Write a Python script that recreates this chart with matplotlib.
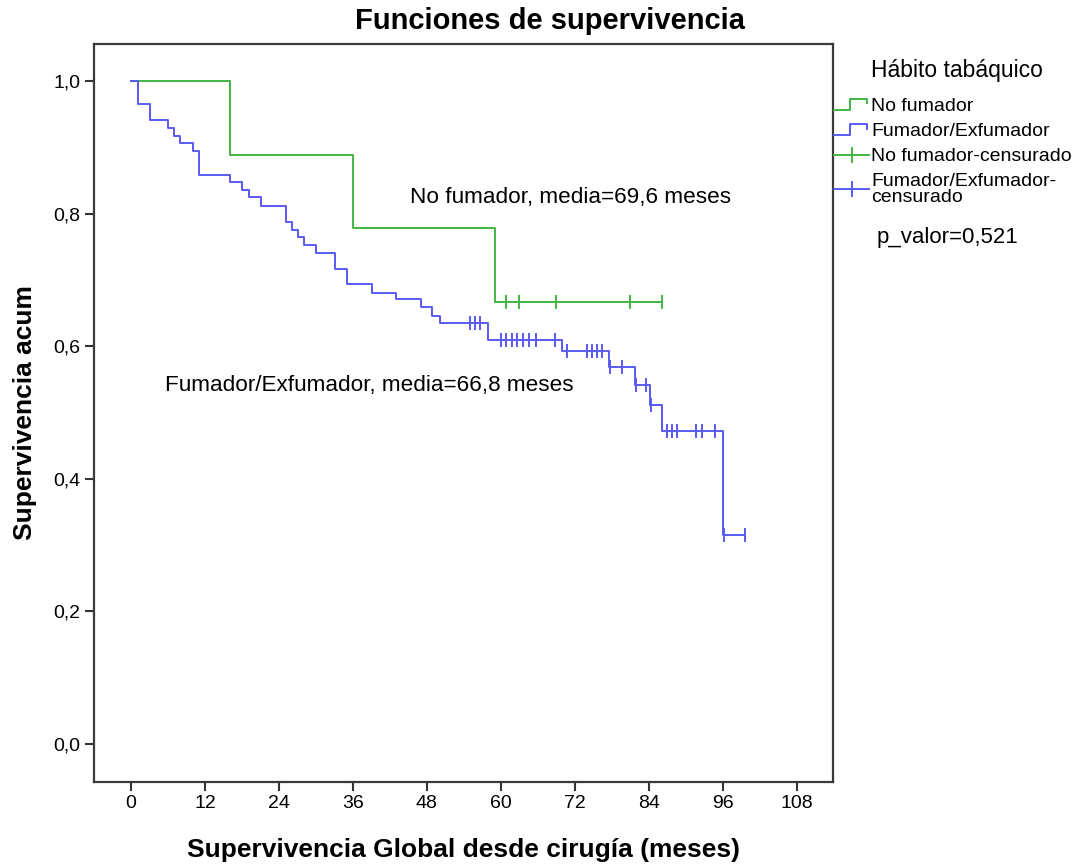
import numpy as np
import matplotlib
matplotlib.use("Agg")
import matplotlib.pyplot as plt
from matplotlib.lines import Line2D
from matplotlib.legend_handler import HandlerBase
from matplotlib.ticker import FuncFormatter, MultipleLocator

plt.rcParams['font.family'] = ['Liberation Sans', 'DejaVu Sans']

# Kaplan-Meier curves (time in months, survival after each drop)
nofum_times = [16.0, 36.0, 59.0]
nofum_surv = [0.889, 0.778, 0.667]
nofum_end = 86.2
nofum_cens = [60.8, 63.0, 69.0, 81.0, 86.2]

fum_times = [1.1, 3.1, 6.0, 7.0, 8.0, 10.1, 11.1, 16.1, 18.0, 19.2, 21.1,
             25.1, 26.1, 27.1, 28.1, 30.0, 33.1, 35.0, 39.1, 43.0, 47.1,
             48.9, 50.1, 57.9, 69.9, 77.6, 81.8, 84.2, 86.1, 96.1]
fum_surv = [0.965, 0.941, 0.929, 0.917, 0.906, 0.894, 0.858, 0.847, 0.836,
            0.825, 0.812, 0.788, 0.776, 0.764, 0.753, 0.741, 0.717, 0.694,
            0.681, 0.671, 0.659, 0.646, 0.635, 0.610, 0.593, 0.569, 0.541,
            0.511, 0.472, 0.315]
fum_end = 99.6
fum_cens = [55.0, 55.8, 56.7, 60.0, 60.9, 61.8, 62.7, 63.6, 64.6, 65.7,
            68.8, 70.7, 74.0, 74.8, 75.6, 76.5, 77.7, 79.7, 82.0, 83.6,
            84.4, 86.9, 87.8, 88.6, 91.7, 92.6, 94.8, 96.2, 99.6]

legend_labels = ['No fumador', 'Fumador/Exfumador', 'No fumador-censurado',
                 'Fumador/Exfumador-\ncensurado']

green = '#44b444'
blue = '#5a5af5'


def step_xy(times, surv, end):
    x = [0.0] + list(times) + [end]
    y = [1.0] + list(surv) + [surv[-1]]
    return x, y


def surv_at(times, surv, t):
    vals = np.concatenate([[1.0], surv])
    idx = np.searchsorted(np.array(times), np.array(t), side='right')
    return vals[idx]


class StepHandler(HandlerBase):
    def create_artists(self, legend, orig_handle, xdescent, ydescent,
                       width, height, fontsize, trans):
        xs = np.array([0.0, 0.45, 0.45, 0.95, 0.95]) * width - xdescent
        ys = np.array([0.05, 0.05, 0.85, 0.85, 0.55]) * height - ydescent
        ln = Line2D(xs, ys, color=orig_handle.get_color(),
                    lw=orig_handle.get_linewidth())
        ln.set_transform(trans)
        return [ln]


fig = plt.figure(figsize=(10.82, 8.67), dpi=100)
ax = fig.add_axes([0.0873, 0.0986, 0.683, 0.8506])

x, y = step_xy(nofum_times, nofum_surv, nofum_end)
ax.step(x, y, where='post', color=green, lw=1.4)
x, y = step_xy(fum_times, fum_surv, fum_end)
ax.step(x, y, where='post', color=blue, lw=1.4)

ax.plot(nofum_cens, surv_at(nofum_times, nofum_surv, nofum_cens), ls='none',
        marker='|', ms=10, mew=1.4, color=green)
ax.plot(fum_cens, surv_at(fum_times, fum_surv, fum_cens), ls='none',
        marker='|', ms=10, mew=1.4, color=blue)

ax.text(45.3, 0.825, 'No fumador, media=69,6 meses', fontsize=16.2, va='center')
ax.text(5.5, 0.5415, 'Fumador/Exfumador, media=66,8 meses', fontsize=16.2, va='center')

ax.set_xlim(-5.92, 113.97)
ax.set_ylim(-0.0566, 1.0558)
ax.xaxis.set_major_locator(MultipleLocator(12))
ax.yaxis.set_major_locator(MultipleLocator(0.2))
ax.yaxis.set_major_formatter(FuncFormatter(lambda v, p: f'{v:.1f}'.replace('.', ',')))
ax.tick_params(direction='out', length=6.5, width=1.5, color='#333333',
               labelsize=14, pad=3.5)
for s in ax.spines.values():
    s.set_linewidth(1.6)
    s.set_color('#3a3a3a')

ax.set_xlabel('Supervivencia Global desde cirugía (meses)', fontsize=19, fontweight='bold')
ax.xaxis.set_label_coords(0.5, -0.077)
ax.set_ylabel('Supervivencia acum', fontsize=19, fontweight='bold')
ax.yaxis.set_label_coords(-0.078, 0.5)

fig.text(550 / 1082, 1 - 21 / 867, 'Funciones de supervivencia', fontsize=21,
         fontweight='bold', ha='center', va='center')

# legend title drawn separately so the gap below it matches
fig.text(957 / 1082, 1 - 70 / 867, 'Hábito tabáquico', fontsize=16.5,
         ha='center', va='center')

handles = [Line2D([], [], color=green, lw=1.4),
           Line2D([], [], color=blue, lw=1.4),
           Line2D([], [], color=green, lw=1.4, marker='|', ms=12, mew=1.4),
           Line2D([], [], color=blue, lw=1.4, marker='|', ms=12, mew=1.4)]
leg = fig.legend(handles, legend_labels, loc='upper left',
                 bbox_to_anchor=(834 / 1082, 1 - 97 / 867),
                 frameon=False, fontsize=14, handlelength=1.8,
                 handletextpad=0.1, borderpad=0, borderaxespad=0,
                 labelspacing=0.4, numpoints=1,
                 handler_map={handles[0]: StepHandler(), handles[1]: StepHandler()})
leg.get_texts()[3].set_linespacing(0.9)

fig.text(877 / 1082, 1 - 237 / 867, 'p_valor=0,521', fontsize=16, va='center')

fig.savefig('out.png', dpi=100)
